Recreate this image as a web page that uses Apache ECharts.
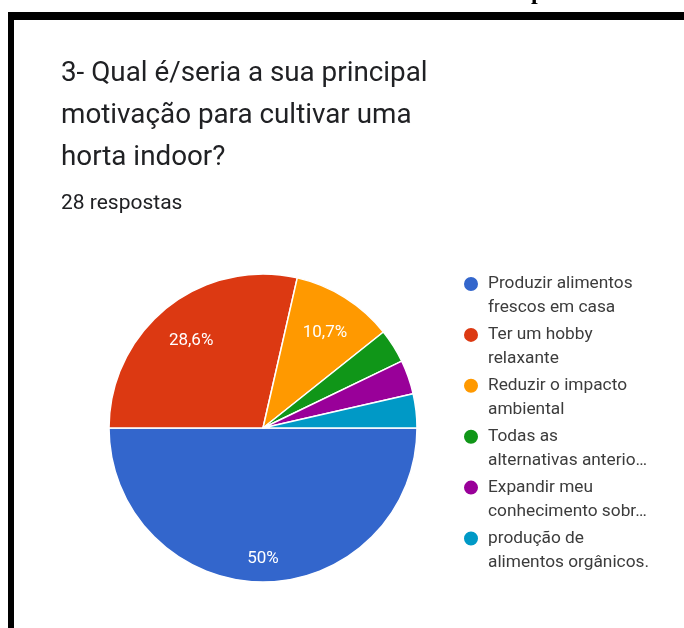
<!DOCTYPE html>
<html>
<head>
<meta charset="utf-8">
<script src="https://cdn.jsdelivr.net/npm/echarts@6/dist/echarts.min.js"></script>
<style>
  html, body { margin: 0; padding: 0; background: #fff; }
  #chart { width: 684px; height: 628px; }
</style>
</head>
<body>
<div id="chart"></div>
<script>
// Survey question and answer count
const questionTitle = '3- Qual é/seria a sua principal\nmotivação para cultivar uma\nhorta indoor?';
const responsesLabel = '28 respostas';

// Answer options (as shown in the legend, wrapped) and number of answers for each
const categories = [
  'Produzir alimentos\nfrescos em casa',
  'Ter um hobby\nrelaxante',
  'Reduzir o impacto\nambiental',
  'Todas as\nalternativas anterio…',
  'Expandir meu\nconhecimento sobr…',
  'produção de\nalimentos orgânicos.'
];
const counts = [14, 8, 3, 1, 1, 1];
const sliceColors = ['#3366cc', '#dc3912', '#ff9900', '#109618', '#990099', '#0099c6'];

const total = counts.reduce((a, b) => a + b, 0);
const pieCenter = [263, 428];
const pieRadius = 154;
// percentage labels sit so that their outer corner reaches this far from the centre
const labelReach = pieRadius * 0.885;
const labelNudgeY = 3; // digits have no descenders: drop them a little to look centred

function pctText(v) {
  const p = Math.round(v / total * 1000) / 10;
  return String(p).replace('.', ',') + '%';
}

const chart = echarts.init(document.getElementById('chart'), null, { renderer: 'canvas' });

chart.setOption({
  backgroundColor: '#ffffff',
  animation: false,
  textStyle: { fontFamily: 'Roboto' },
  title: [
    {
      text: questionTitle,
      left: 61,
      top: 53,
      padding: 0,
      textStyle: {
        fontFamily: 'Roboto',
        fontSize: 27.8,
        fontWeight: 'normal',
        lineHeight: 42,
        color: '#202124'
      }
    },
    {
      text: responsesLabel,
      left: 61,
      top: 192,
      padding: 0,
      textStyle: {
        fontFamily: 'Roboto',
        fontSize: 21,
        fontWeight: 'normal',
        lineHeight: 24,
        color: '#202124'
      }
    }
  ],
  legend: {
    orient: 'vertical',
    left: 462,
    top: 275,
    padding: 0,
    icon: 'circle',
    itemWidth: 16,
    itemHeight: 16,
    itemGap: 9.4,
    selectedMode: false,
    data: categories,
    // each line as its own rich token so the first line lines up with the dot
    formatter: function (name) {
      return name.split('\n').map(function (s) { return '{t|' + s + '}'; }).join('\n');
    },
    textStyle: {
      padding: [24, 0, 0, 4],
      rich: {
        t: {
          fontFamily: 'Roboto',
          fontSize: 17.3,
          lineHeight: 24,
          color: '#3c3c3c'
        }
      }
    }
  },
  color: sliceColors,
  series: [
    {
      type: 'pie',
      center: pieCenter,
      radius: pieRadius,
      startAngle: 0,
      clockwise: true,
      avoidLabelOverlap: false,
      emphasis: { disabled: true },
      itemStyle: { borderColor: '#ffffff', borderWidth: 1.5 },
      label: {
        show: true,
        position: 'inside',
        color: '#ffffff',
        fontFamily: 'Roboto',
        fontSize: 17,
        formatter: function (p) {
          return p.value / total >= 0.05 ? pctText(p.value) : '';
        }
      },
      labelLine: { show: false },
      labelLayout: function (params) {
        const r = params.labelRect;
        const lx = r.x + r.width / 2;
        const ly = r.y + r.height / 2;
        let ux = lx - pieCenter[0];
        let uy = ly - pieCenter[1];
        const len = Math.sqrt(ux * ux + uy * uy) || 1;
        ux /= len; uy /= len;
        const ax = Math.abs(ux) < 1e-3 ? 0 : Math.sign(ux) * r.width / 2;
        const ay = Math.abs(uy) < 1e-3 ? 0 : Math.sign(uy) * r.height / 2;
        const b = ux * ax + uy * ay;
        const c = ax * ax + ay * ay - labelReach * labelReach;
        const t = -b + Math.sqrt(b * b - c);
        return {
          dx: pieCenter[0] + t * ux - lx,
          dy: pieCenter[1] + t * uy - ly + labelNudgeY
        };
      },
      data: categories.map((name, i) => ({ name: name, value: counts[i] }))
    }
  ],
  graphic: [
    // frame around the card
    { type: 'rect', shape: { x: 8, y: 12, width: 676, height: 8 }, style: { fill: '#000' } },
    { type: 'rect', shape: { x: 8, y: 12, width: 6, height: 616 }, style: { fill: '#000' } },
    // tail of the heading text above the frame
    {
      type: 'text',
      style: {
        text: 'p',
        x: 531,
        y: -7,
        verticalAlign: 'middle',
        font: 'bold 24px "Liberation Serif"',
        fill: '#000'
      }
    }
  ]
});
</script>
</body>
</html>
